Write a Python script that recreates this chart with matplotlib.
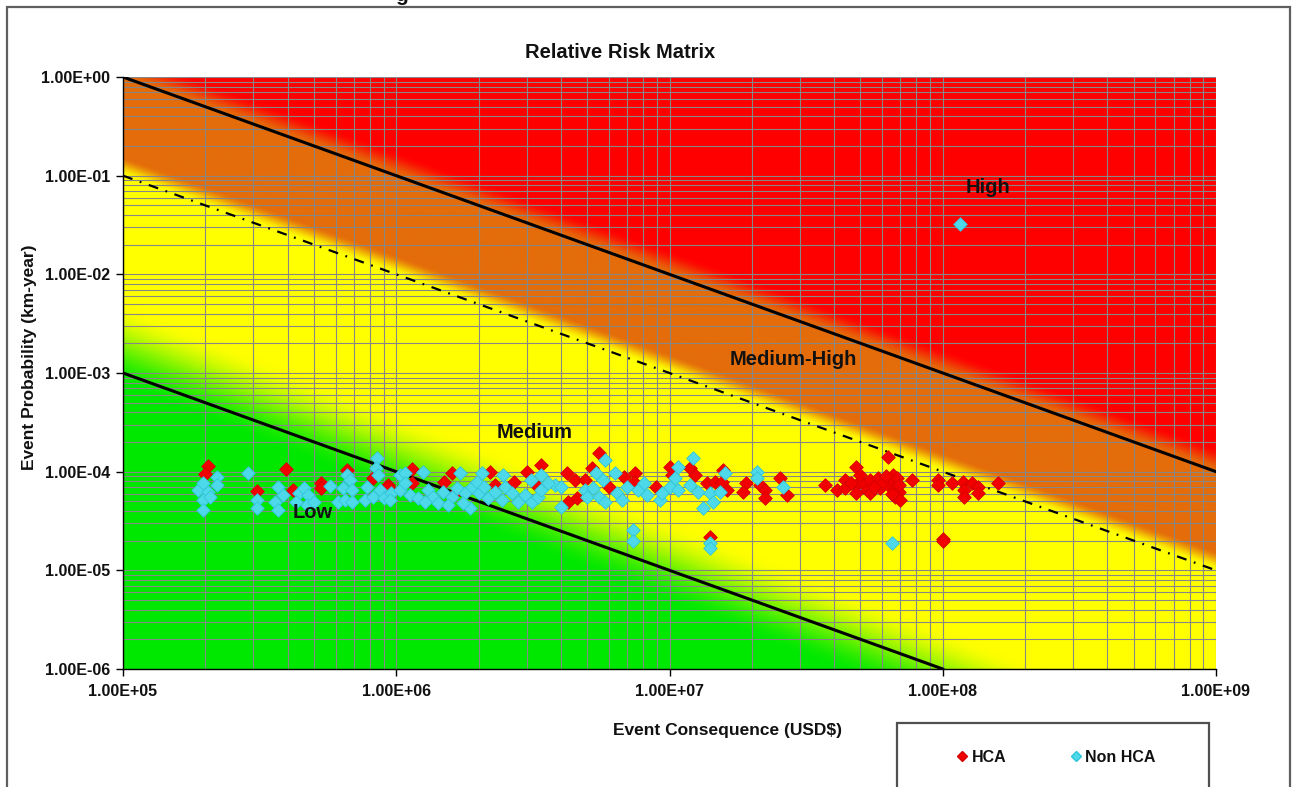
import numpy as np
import matplotlib
matplotlib.use("Agg")
import matplotlib.pyplot as plt
from matplotlib.ticker import FuncFormatter, LogLocator, NullFormatter
from matplotlib.lines import Line2D
from matplotlib.patches import Rectangle

plt.rcParams['font.family'] = ['Liberation Sans', 'DejaVu Sans']
plt.rcParams['font.weight'] = 'bold'

# ---------------- data ----------------
x_limits = [1e5, 1e9]
y_limits = [1e-6, 1e0]

# risk boundary lines (Consequence, Probability end points)
high_line_x = [1e5, 1e9]
high_line_y = [1e0, 1e-4]
mid_line_x = [1e5, 1e9]
mid_line_y = [1e-1, 1e-5]
low_line_x = [1e5, 1e8]
low_line_y = [1e-3, 1e-6]

hca_cost = [2.05e5, 2.0e5, 3.95e5, 3.1e5, 4.2e5, 5.3e5, 5.3e5, 6.6e5, 8.2e5, 9.3e5,
            1.14e6, 1.6e6, 2.2e6, 3.0e6, 3.4e6, 4.2e6, 4.5e6, 2.7e6, 2.3e6, 1.5e6,
            1.14e6, 9.3e5, 5.2e6, 4.25e6, 4.6e6, 1.64e6, 4.9e6, 3.3e6, 5.5e6, 6.8e6,
            7.5e6, 7.4e6, 6.0e6, 8.9e6, 1.0e7, 1.02e7, 1.19e7, 1.24e7, 1.37e7, 1.47e7,
            1.57e7, 1.55e7, 1.62e7, 1.9e7, 1.86e7, 2.14e7, 2.24e7, 2.24e7, 2.54e7, 2.7e7,
            1.41e7, 3.7e7, 4.1e7, 4.4e7, 4.4e7, 4.8e7, 4.8e7, 4.8e7, 5.1e7, 5.3e7,
            5.4e7, 5.4e7, 5.8e7, 5.9e7, 6.3e7, 6.3e7, 6.6e7, 6.6e7, 6.7e7, 6.7e7,
            6.8e7, 6.9e7, 7.7e7, 9.6e7, 9.6e7, 1.08e8, 1.19e8, 1.2e8, 1.2e8, 1.28e8,
            1.35e8, 1.35e8, 1.59e8, 1.0e8, 1.0e8,
            5.0e7, 6.0e7, 6.5e7, 6.9e7, 5.6e7, 4.6e7, 6.2e7, 7.0e7]
hca_prob = [1.14e-4, 9.5e-5, 1.06e-4, 6.4e-5, 6.5e-5, 7.7e-5, 6.8e-5, 1.04e-4, 8.6e-5, 7.3e-5,
            1.06e-4, 9.7e-5, 9.9e-5, 9.9e-5, 1.17e-4, 9.7e-5, 8.2e-5, 7.9e-5, 7.3e-5, 7.9e-5,
            7.7e-5, 7.0e-5, 1.09e-4, 4.9e-5, 5.4e-5, 6.1e-5, 8.2e-5, 7.0e-5, 1.55e-4, 8.8e-5,
            9.7e-5, 7.9e-5, 7.0e-5, 7.0e-5, 1.12e-4, 9.3e-5, 1.09e-4, 9.3e-5, 7.7e-5, 7.9e-5,
            1.04e-4, 7.9e-5, 6.5e-5, 7.7e-5, 6.2e-5, 7.3e-5, 6.5e-5, 5.4e-5, 8.6e-5, 5.8e-5,
            2.2e-5, 7.3e-5, 6.5e-5, 8.2e-5, 6.8e-5, 1.12e-4, 7.3e-5, 6.1e-5, 7.7e-5, 6.5e-5,
            8.2e-5, 6.1e-5, 8.6e-5, 6.8e-5, 1.41e-4, 7.3e-5, 9.3e-5, 7.9e-5, 6.8e-5, 5.5e-5,
            8.6e-5, 6.2e-5, 8.2e-5, 8.2e-5, 7.3e-5, 7.7e-5, 7.9e-5, 6.5e-5, 5.5e-5, 7.7e-5,
            7.0e-5, 6.1e-5, 7.7e-5, 2.1e-5, 2.0e-5,
            9.3e-5, 7.7e-5, 6.0e-5, 7.3e-5, 7.0e-5, 7.7e-5, 9.0e-5, 5.2e-5]

nonhca_cost = [1.88e5, 1.96e5, 2.2e5, 2.2e5, 2.05e5, 1.96e5, 2.08e5, 1.96e5, 2.87e5, 3.1e5,
               3.1e5, 3.7e5, 3.85e5, 3.6e5, 3.7e5, 4.4e5, 4.6e5, 4.75e5, 4.3e5, 4.7e5,
               5.0e5, 5.7e5, 6.1e5, 6.4e5, 6.6e5, 6.8e5, 6.9e5, 6.5e5, 6.9e5, 7.8e5,
               7.7e5, 8.5e5, 8.4e5, 8.6e5, 8.7e5, 8.2e5, 9.0e5,
               1.03e6, 1.08e6, 1.25e6, 1.71e6, 2.06e6, 2.46e6, 3.4e6, 3.1e6, 3.8e6, 4.0e6,
               4.9e6, 5.0e6, 9.6e5, 1.03e6, 1.08e6, 1.12e6, 1.2e6, 1.31e6, 1.36e6, 1.42e6,
               1.48e6, 1.6e6, 1.67e6, 1.78e6, 1.89e6, 1.97e6, 2.0e6, 2.1e6, 2.17e6, 2.3e6,
               2.44e6, 2.5e6, 2.65e6, 2.8e6, 2.96e6, 3.14e6, 3.3e6, 3.4e6, 3.6e6, 4.0e6,
               1.86e6, 9.5e5, 1.27e6, 1.55e6, 1.75e6,
               5.8e6, 5.4e6, 5.7e6, 5.25e6, 5.5e6, 5.8e6, 6.3e6, 6.4e6, 6.7e6, 7.0e6,
               7.7e6, 8.1e6, 8.3e6, 9.2e6, 9.4e6, 1.0e7, 1.05e7, 1.07e7, 1.07e7, 1.19e7,
               1.22e7, 1.27e7, 1.41e7, 1.44e7, 1.33e7, 1.53e7, 1.6e7, 2.09e7, 2.09e7, 2.6e7,
               7.35e6, 7.35e6, 1.41e7, 1.41e7, 6.5e7, 1.16e8]
nonhca_prob = [6.5e-5, 7.7e-5, 8.8e-5, 7.3e-5, 6.2e-5, 5.2e-5, 5.5e-5, 4.1e-5, 9.7e-5, 5.2e-5,
               4.3e-5, 7.0e-5, 5.8e-5, 4.9e-5, 4.1e-5, 6.1e-5, 6.8e-5, 5.8e-5, 4.9e-5, 4.6e-5,
               4.9e-5, 7.2e-5, 4.9e-5, 6.8e-5, 9.3e-5, 8.2e-5, 6.5e-5, 5.2e-5, 4.9e-5, 7.0e-5,
               5.2e-5, 1.38e-4, 1.09e-4, 9.3e-5, 6.5e-5, 5.5e-5, 5.4e-5,
               9.3e-5, 9.7e-5, 9.9e-5, 9.7e-5, 9.7e-5, 9.3e-5, 9.3e-5, 8.2e-5, 7.3e-5, 7.0e-5,
               6.5e-5, 5.5e-5, 6.1e-5, 6.5e-5, 7.7e-5, 5.8e-5, 5.4e-5, 6.5e-5, 5.5e-5, 4.8e-5,
               6.2e-5, 5.5e-5, 6.8e-5, 6.1e-5, 7.0e-5, 7.9e-5, 6.1e-5, 7.0e-5, 5.4e-5, 6.2e-5,
               5.2e-5, 7.0e-5, 6.1e-5, 4.9e-5, 5.8e-5, 4.9e-5, 5.5e-5, 6.5e-5, 7.7e-5, 4.4e-5,
               4.3e-5, 5.2e-5, 4.9e-5, 4.6e-5, 4.8e-5,
               1.31e-4, 9.7e-5, 8.2e-5, 6.8e-5, 5.5e-5, 4.9e-5, 9.7e-5, 6.1e-5, 5.2e-5, 7.0e-5,
               6.5e-5, 7.7e-5, 5.8e-5, 5.2e-5, 6.1e-5, 7.0e-5, 8.6e-5, 1.12e-4, 6.5e-5, 7.3e-5,
               1.38e-4, 6.2e-5, 6.1e-5, 4.9e-5, 4.3e-5, 6.2e-5, 9.7e-5, 9.9e-5, 8.6e-5, 7.0e-5,
               2.56e-5, 2.0e-5, 1.9e-5, 1.7e-5, 1.9e-5, 3.2e-2]

series_labels = ['HCA', 'Non HCA']
region_labels = ['High', 'Medium-High', 'Medium', 'Low']

# ---------------- figure ----------------
W, H = 1295, 787
fig = plt.figure(figsize=(W / 100, H / 100), dpi=100)
pos = [123 / W, 1 - 669 / H, (1216 - 123) / W, (669 - 77) / H]

# background gradient (risk = consequence * probability)
bg = fig.add_axes(pos, zorder=0)
nx, ny = 1100, 600
lc = np.linspace(np.log10(x_limits[0]), np.log10(x_limits[1]), nx)
lp = np.linspace(np.log10(y_limits[0]), np.log10(y_limits[1]), ny)
LC, LP = np.meshgrid(lc, lp)
T = LC + LP
Tg = 1.1 * LC + LP


def smooth(a, b, t):
    s = np.clip((t - a) / (b - a), 0, 1)
    return (s * s * (3 - 2 * s))[..., None]


green = np.array([0, 232, 0]) / 255
yellow = np.array([255, 255, 0]) / 255
orange = np.array([228, 108, 10]) / 255
red = np.array([255, 0, 0]) / 255

img = np.ones((ny, nx, 3)) * green
w = smooth(2.35, 3.2, Tg)
img = img * (1 - w) + yellow * w
w = smooth(4.0, 4.2, T)
img = img * (1 - w) + orange * w
w = smooth(5.0, 5.25, T)
img = img * (1 - w) + red * w

bg.imshow(img, extent=[0, 1, 0, 1], origin='lower', aspect='auto', interpolation='bilinear')
bg.set_xlim(0, 1)
bg.set_ylim(0, 1)
bg.set_axis_off()

ax = fig.add_axes(pos, zorder=1)
ax.set_facecolor('none')
ax.set_xscale('log')
ax.set_yscale('log')
ax.set_xlim(*x_limits)
ax.set_ylim(*y_limits)

for axis in (ax.xaxis, ax.yaxis):
    axis.set_major_locator(LogLocator(base=10, numticks=20))
    axis.set_minor_locator(LogLocator(base=10, subs=np.arange(2, 10), numticks=200))
    axis.set_minor_formatter(NullFormatter())


def sci(v, p):
    e = int(np.floor(np.log10(v) + 1e-9))
    m = v / 10 ** e
    return f"{m:.2f}E{e:+03d}"


ax.xaxis.set_major_formatter(FuncFormatter(sci))
ax.yaxis.set_major_formatter(FuncFormatter(sci))

ax.grid(True, which='both', color='#878787', lw=0.8)
ax.tick_params(which='major', direction='out', length=5, width=1, color='black',
               labelsize=11.5, labelcolor='#111111')
ax.tick_params(axis='x', which='major', pad=6)
ax.tick_params(axis='y', which='major', pad=4)
ax.tick_params(which='minor', length=0)
for s in ('top', 'right'):
    ax.spines[s].set_visible(False)
for s in ('left', 'bottom'):
    ax.spines[s].set_color('black')
    ax.spines[s].set_linewidth(1.0)

# risk lines
ax.plot(high_line_x, high_line_y, color='black', lw=2.2, zorder=3)
ax.plot(mid_line_x, mid_line_y, color='black', lw=1.6, zorder=3,
        linestyle=(0, (4.5, 3.5, 0.8, 3.5)))
ax.plot(low_line_x, low_line_y, color='black', lw=2.2, zorder=3)

# points
ax.scatter(hca_cost, hca_prob, marker='D', s=48, c='#F20000', edgecolors='#D40000',
           linewidths=0.6, zorder=4, clip_on=False)
ax.scatter(nonhca_cost, nonhca_prob, marker='D', s=48, c='#4ED9EA', edgecolors='#30C4D8',
           linewidths=0.6, zorder=5, clip_on=False)

# region labels
region_pos = [(0.791, 0.814), (0.613, 0.522), (0.377, 0.399), (0.174, 0.264)]
for lbl, (px, py) in zip(region_labels, region_pos):
    ax.text(px, py, lbl, transform=ax.transAxes, ha='center', va='center',
            fontsize=14.5, color='#111111', zorder=6)

# titles
fig.text(620 / W, 1 - 52 / H, 'Relative Risk Matrix', ha='center', va='center',
         fontsize=14.5, color='#111111')
fig.text(727 / W, 1 - 730 / H, 'Event Consequence (USD$)', ha='center', va='center',
         fontsize=12.5, color='#111111')
fig.text(30 / W, 1 - 357 / H, 'Event Probability (km-year)', ha='center', va='center',
         rotation=90, fontsize=12.5, color='#111111')

# partial heading text cut at the top edge (as in the source image)
fig.text(402 / W, 1 - 1 / H, 'g', ha='center', va='baseline', fontsize=15, color='#111111')

# outer chart border
fig.add_artist(Rectangle((7 / W, -0.05), (1290 - 7) / W, 1 - 7 / H + 0.05,
                         transform=fig.transFigure, fill=False, ec='#5f5f5f', lw=1.6,
                         clip_on=False))

# legend box (cut at bottom)
fig.add_artist(Rectangle((897 / W, -0.05), (1209 - 897) / W, (787 - 723) / H + 0.05,
                         transform=fig.transFigure, fill=False, ec='#505050', lw=1.6,
                         clip_on=False))
handles = [Line2D([], [], marker='D', ls='none', markersize=5, color='#F20000',
                  markeredgecolor='#D40000'),
           Line2D([], [], marker='D', ls='none', markersize=5, color='#4ED9EA',
                  markeredgecolor='#30C4D8')]
fig.legend(handles, series_labels, loc='center', bbox_to_anchor=(1056 / W, 1 - 757 / H),
           ncol=2, frameon=False, fontsize=11.5, handlelength=0.7, handletextpad=0.25,
           columnspacing=4.0, labelcolor='#111111')

fig.savefig('out.png', dpi=100)
